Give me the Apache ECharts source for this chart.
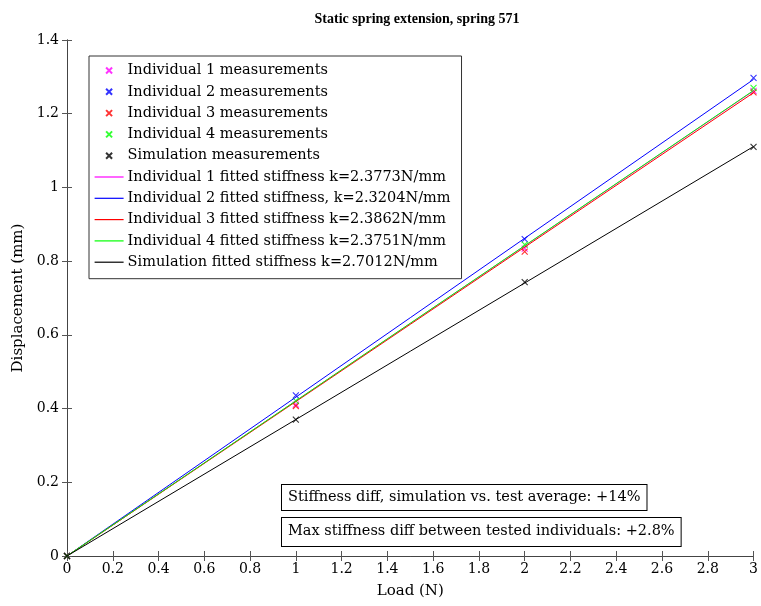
<!DOCTYPE html>
<html><head><meta charset="utf-8">
<script src="https://cdn.jsdelivr.net/npm/echarts@6/dist/echarts.min.js"></script>
<style>html,body{margin:0;padding:0;background:#fff}#c{width:761px;height:606px}</style>
</head><body><div id="c"></div>
<script>
// Data
const loads = [0, 1, 2, 3];
const ind1Meas = [0, 0.411, 0.834, 1.262];
const ind2Meas = [0, 0.436, 0.860, 1.297];
const ind3Meas = [0, 0.407, 0.826, 1.258];
const ind4Meas = [0, 0.421, 0.845, 1.270];
const simMeas  = [0, 0.370, 0.743, 1.110];
const fitX = [0, 3];
const ind1Fit = [0, 1.262];
const ind2Fit = [0, 1.293];
const ind3Fit = [0, 1.257];
const ind4Fit = [0, 1.263];
const simFit  = [0, 1.111];
const measNames = ['Individual 1 measurements','Individual 2 measurements','Individual 3 measurements','Individual 4 measurements','Simulation measurements'];
const fitNames = ['Individual 1 fitted stiffness k=2.3773N/mm','Individual 2 fitted stiffness, k=2.3204N/mm','Individual 3 fitted stiffness k=2.3862N/mm','Individual 4 fitted stiffness k=2.3751N/mm','Simulation fitted stiffness k=2.7012N/mm'];
const colors = ['#ff00ff','#0000ff','#ff0000','#00ff00','#000000'];
const xTicks = ['0','0.2','0.4','0.6','0.8','1','1.2','1.4','1.6','1.8','2','2.2','2.4','2.6','2.8','3'];
const yTicks = ['0','0.2','0.4','0.6','0.8','1','1.2','1.4'];
const note1 = 'Stiffness diff, simulation vs. test average: +14%';
const note2 = 'Max stiffness diff between tested individuals: +2.8%';

const FONT = '"DejaVu Serif", "Liberation Serif", serif';
const TFONT = '"Liberation Serif", serif';
const pair = (xs, ys) => xs.map((x, i) => [x, ys[i]]);
const measData = [ind1Meas, ind2Meas, ind3Meas, ind4Meas, simMeas];
const fitData = [ind1Fit, ind2Fit, ind3Fit, ind4Fit, simFit];
const crossPath = 'path://M0,0L10,10M10,0L0,10';

const series = [];
measData.forEach((d, i) => {
  series.push({
    name: measNames[i], type: 'scatter', data: pair(loads, d),
    symbol: crossPath, symbolSize: 6, symbolKeepAspect: true,
    itemStyle: { color: colors[i], borderColor: colors[i], borderWidth: 1.1 },
    z: 2
  });
});
fitData.forEach((d, i) => {
  series.push({
    name: fitNames[i], type: 'line', data: pair(fitX, d),
    symbol: 'none', lineStyle: { color: colors[i], width: 1 },
    itemStyle: { color: colors[i] }, z: 3
  });
});

const axisLine = { show: true, lineStyle: { color: '#444', width: 1 } };
const tick = { show: true, inside: true, length: 5, lineStyle: { color: '#555' } };
const chart = echarts.init(document.getElementById('c'), null, { renderer: 'canvas' });
chart.setOption({
  animation: false,
  textStyle: { fontFamily: FONT },
  title: { text: 'Static spring extension, spring 571', left: 412, textAlign: 'center', top: 7,
    textStyle: { fontFamily: TFONT, fontWeight: 'bold', fontSize: 14, color: '#000' } },
  grid: { left: 67, right: 4, top: 40, bottom: 50 },
  xAxis: [
    { type: 'value', min: 0, max: 3, interval: 0.2, name: 'Load (N)', nameLocation: 'middle', nameGap: 28,
      nameTextStyle: { fontFamily: FONT, fontSize: 15, color: '#000' },
      axisLine, axisTick: tick, splitLine: { show: false },
      axisLabel: { fontFamily: FONT, fontSize: 14, color: '#000', margin: 6,
        formatter: (v) => xTicks[Math.round(v / 0.2)] } },
    { type: 'value', position: 'top', min: 0, max: 3, interval: 0.2, axisLine, axisTick: tick,
      axisLabel: { show: false }, splitLine: { show: false } }
  ],
  yAxis: [
    { type: 'value', min: 0, max: 1.4, interval: 0.2, name: 'Displacement (mm)', nameLocation: 'middle', nameGap: 40,
      nameTextStyle: { fontFamily: FONT, fontSize: 15, color: '#000' },
      axisLine, axisTick: tick, splitLine: { show: false },
      axisLabel: { fontFamily: FONT, fontSize: 14, color: '#000', margin: 8,
        formatter: (v) => yTicks[Math.round(v / 0.2)] } },
    { type: 'value', position: 'right', min: 0, max: 1.4, interval: 0.2, axisLine, axisTick: tick,
      axisLabel: { show: false }, splitLine: { show: false } }
  ],
  legend: {
    orient: 'vertical', left: 89, top: 56, itemWidth: 29, itemHeight: 6, itemGap: 6.3,
    padding: [7, 11, 9, 5], borderColor: '#333', borderWidth: 1, backgroundColor: '#fff',
    selectedMode: false,
    data: measNames.map(n => ({ name: n })).concat(fitNames.map((n, i) => ({
      name: n, itemStyle: { opacity: 0 }, lineStyle: { color: colors[i], width: 1.2, opacity: 1 } }))),
    textStyle: { fontFamily: FONT, fontSize: 14.5, color: '#000', padding: [0, 0, 0, -1] }
  },
  graphic: [
    { type: 'text', left: 281, top: 484, z: 10,
      style: { text: note1, font: '14.5px ' + FONT, fill: '#000', backgroundColor: '#fff',
        borderColor: '#000', borderWidth: 1, padding: [5, 6, 5, 6] } },
    { type: 'text', left: 281, top: 517, z: 10,
      style: { text: note2, font: '14.5px ' + FONT, fill: '#000', backgroundColor: '#fff',
        borderColor: '#000', borderWidth: 1, padding: [6, 6, 7, 6] } }
  ],
  series
});
</script></body></html>
